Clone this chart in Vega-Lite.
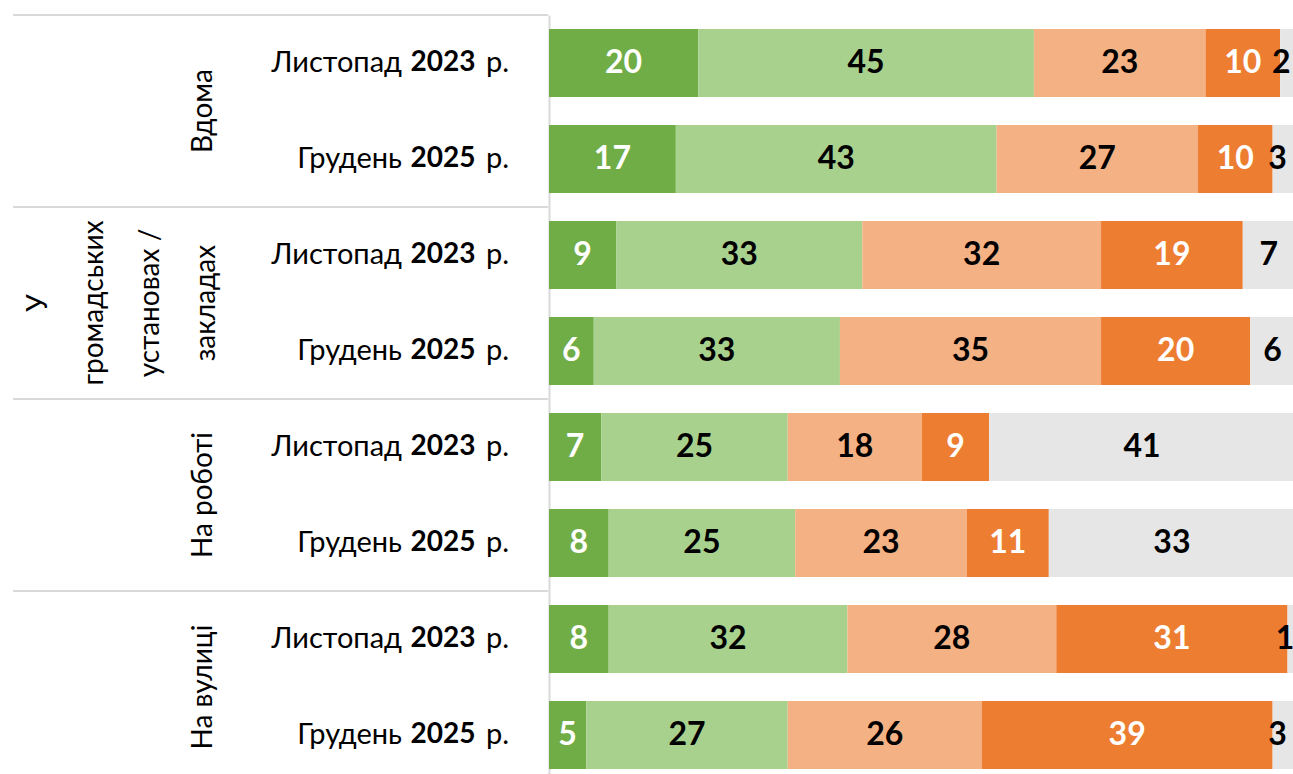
{
  "$schema": "https://vega.github.io/schema/vega-lite/v6.json",
  "padding": {"left": 12, "top": 14, "right": 0, "bottom": 0},
  "spacing": 0,
  "config": {"view": {"stroke": null}, "font": "Lato", "concat": {"spacing": 0}},
  "datasets": {
    "survey": [
      {"group": "Вдома", "month": "Листопад", "year": "2023", "row": "Вдома 2023", "answer": 1, "value": 20},
      {"group": "Вдома", "month": "Листопад", "year": "2023", "row": "Вдома 2023", "answer": 2, "value": 45},
      {"group": "Вдома", "month": "Листопад", "year": "2023", "row": "Вдома 2023", "answer": 3, "value": 23},
      {"group": "Вдома", "month": "Листопад", "year": "2023", "row": "Вдома 2023", "answer": 4, "value": 10},
      {"group": "Вдома", "month": "Листопад", "year": "2023", "row": "Вдома 2023", "answer": 5, "value": 2},
      {"group": "Вдома", "month": "Грудень", "year": "2025", "row": "Вдома 2025", "answer": 1, "value": 17},
      {"group": "Вдома", "month": "Грудень", "year": "2025", "row": "Вдома 2025", "answer": 2, "value": 43},
      {"group": "Вдома", "month": "Грудень", "year": "2025", "row": "Вдома 2025", "answer": 3, "value": 27},
      {"group": "Вдома", "month": "Грудень", "year": "2025", "row": "Вдома 2025", "answer": 4, "value": 10},
      {"group": "Вдома", "month": "Грудень", "year": "2025", "row": "Вдома 2025", "answer": 5, "value": 3},
      {"group": "У\nгромадських\nустановах /\nзакладах", "month": "Листопад", "year": "2023", "row": "Установи 2023", "answer": 1, "value": 9},
      {"group": "У\nгромадських\nустановах /\nзакладах", "month": "Листопад", "year": "2023", "row": "Установи 2023", "answer": 2, "value": 33},
      {"group": "У\nгромадських\nустановах /\nзакладах", "month": "Листопад", "year": "2023", "row": "Установи 2023", "answer": 3, "value": 32},
      {"group": "У\nгромадських\nустановах /\nзакладах", "month": "Листопад", "year": "2023", "row": "Установи 2023", "answer": 4, "value": 19},
      {"group": "У\nгромадських\nустановах /\nзакладах", "month": "Листопад", "year": "2023", "row": "Установи 2023", "answer": 5, "value": 7},
      {"group": "У\nгромадських\nустановах /\nзакладах", "month": "Грудень", "year": "2025", "row": "Установи 2025", "answer": 1, "value": 6},
      {"group": "У\nгромадських\nустановах /\nзакладах", "month": "Грудень", "year": "2025", "row": "Установи 2025", "answer": 2, "value": 33},
      {"group": "У\nгромадських\nустановах /\nзакладах", "month": "Грудень", "year": "2025", "row": "Установи 2025", "answer": 3, "value": 35},
      {"group": "У\nгромадських\nустановах /\nзакладах", "month": "Грудень", "year": "2025", "row": "Установи 2025", "answer": 4, "value": 20},
      {"group": "У\nгромадських\nустановах /\nзакладах", "month": "Грудень", "year": "2025", "row": "Установи 2025", "answer": 5, "value": 6},
      {"group": "На роботі", "month": "Листопад", "year": "2023", "row": "Робота 2023", "answer": 1, "value": 7},
      {"group": "На роботі", "month": "Листопад", "year": "2023", "row": "Робота 2023", "answer": 2, "value": 25},
      {"group": "На роботі", "month": "Листопад", "year": "2023", "row": "Робота 2023", "answer": 3, "value": 18},
      {"group": "На роботі", "month": "Листопад", "year": "2023", "row": "Робота 2023", "answer": 4, "value": 9},
      {"group": "На роботі", "month": "Листопад", "year": "2023", "row": "Робота 2023", "answer": 5, "value": 41},
      {"group": "На роботі", "month": "Грудень", "year": "2025", "row": "Робота 2025", "answer": 1, "value": 8},
      {"group": "На роботі", "month": "Грудень", "year": "2025", "row": "Робота 2025", "answer": 2, "value": 25},
      {"group": "На роботі", "month": "Грудень", "year": "2025", "row": "Робота 2025", "answer": 3, "value": 23},
      {"group": "На роботі", "month": "Грудень", "year": "2025", "row": "Робота 2025", "answer": 4, "value": 11},
      {"group": "На роботі", "month": "Грудень", "year": "2025", "row": "Робота 2025", "answer": 5, "value": 33},
      {"group": "На вулиці", "month": "Листопад", "year": "2023", "row": "Вулиця 2023", "answer": 1, "value": 8},
      {"group": "На вулиці", "month": "Листопад", "year": "2023", "row": "Вулиця 2023", "answer": 2, "value": 32},
      {"group": "На вулиці", "month": "Листопад", "year": "2023", "row": "Вулиця 2023", "answer": 3, "value": 28},
      {"group": "На вулиці", "month": "Листопад", "year": "2023", "row": "Вулиця 2023", "answer": 4, "value": 31},
      {"group": "На вулиці", "month": "Листопад", "year": "2023", "row": "Вулиця 2023", "answer": 5, "value": 1},
      {"group": "На вулиці", "month": "Грудень", "year": "2025", "row": "Вулиця 2025", "answer": 1, "value": 5},
      {"group": "На вулиці", "month": "Грудень", "year": "2025", "row": "Вулиця 2025", "answer": 2, "value": 27},
      {"group": "На вулиці", "month": "Грудень", "year": "2025", "row": "Вулиця 2025", "answer": 3, "value": 26},
      {"group": "На вулиці", "month": "Грудень", "year": "2025", "row": "Вулиця 2025", "answer": 4, "value": 39},
      {"group": "На вулиці", "month": "Грудень", "year": "2025", "row": "Вулиця 2025", "answer": 5, "value": 3}
    ]
  },
  "hconcat": [
    {
      "width": 535,
      "height": 760,
      "data": {"name": "survey"},
      "transform": [{"filter": "datum.answer == 1"}],
      "encoding": {
        "y": {
          "field": "row",
          "type": "nominal",
          "axis": null,
          "scale": {
            "domain": ["Вдома 2023", "Вдома 2025", "Установи 2023", "Установи 2025", "Робота 2023", "Робота 2025", "Вулиця 2023", "Вулиця 2025"],
            "paddingInner": 0.2917,
            "paddingOuter": 0.1042,
            "align": 0.7,
            "round": false
          }
        }
      },
      "layer": [
        {
          "transform": [{"filter": "datum.year == '2023'"}],
          "mark": {"type": "rule", "color": "#D9D9D9", "strokeWidth": 2, "yOffset": -14},
          "encoding": {
            "y": {"field": "row", "type": "nominal", "bandPosition": 0, "axis": null}
          }
        },
        {
          "mark": {"type": "text", "align": "right", "baseline": "middle", "fontSize": 29, "color": "#000000", "x": 389},
          "encoding": {"text": {"field": "month"}}
        },
        {
          "mark": {"type": "text", "align": "center", "baseline": "middle", "fontSize": 28, "fontWeight": "bold", "color": "#000000", "x": 430},
          "encoding": {"text": {"field": "year"}}
        },
        {
          "mark": {"type": "text", "align": "right", "baseline": "middle", "fontSize": 29, "color": "#000000", "x": 496, "text": "р."},
          "encoding": {}
        },
        {
          "transform": [{"filter": "datum.year == '2023' && indexof(datum.group, '\\n') < 0"}],
          "mark": {"type": "text", "align": "center", "baseline": "bottom", "angle": 270, "fontSize": 28, "color": "#000000", "x": 205, "yOffset": 48},
          "encoding": {"text": {"field": "group"}}
        },
        {
          "transform": [{"filter": "datum.year == '2023' && indexof(datum.group, '\\n') >= 0"}],
          "mark": {"type": "text", "align": "center", "baseline": "bottom", "angle": 270, "fontSize": 28, "color": "#000000", "x": 40, "yOffset": 48, "lineBreak": "\n", "lineHeight": 56},
          "encoding": {"text": {"field": "group"}}
        }
      ]
    },
    {
      "width": 746,
      "height": 760,
      "data": {"name": "survey"},
      "encoding": {
        "y": {
          "field": "row",
          "type": "nominal",
          "axis": {"labels": false, "ticks": false, "title": null, "domainColor": "#D9D9D9", "domainWidth": 2, "grid": false},
          "scale": {
            "domain": ["Вдома 2023", "Вдома 2025", "Установи 2023", "Установи 2025", "Робота 2023", "Робота 2025", "Вулиця 2023", "Вулиця 2025"],
            "paddingInner": 0.2917,
            "paddingOuter": 0.1042,
            "align": 0.7,
            "round": false
          }
        }
      },
      "layer": [
        {
          "mark": {"type": "bar"},
          "encoding": {
            "x": {"field": "value", "type": "quantitative", "stack": "zero", "axis": null, "scale": {"domain": [0, 100], "nice": false}},
            "color": {
              "field": "answer",
              "type": "ordinal",
              "legend": null,
              "scale": {"domain": [1, 2, 3, 4, 5], "range": ["#70AD47", "#A9D18E", "#F4B183", "#ED7D31", "#E7E6E6"]}
            }
          }
        },
        {
          "mark": {"type": "text", "align": "center", "baseline": "middle", "fontSize": 32, "fontWeight": "bold"},
          "encoding": {
            "x": {"field": "value", "type": "quantitative", "stack": "zero", "bandPosition": 0.5, "axis": null, "scale": {"domain": [0, 100], "nice": false}},
            "text": {"condition": {"test": "!(datum.answer == 5 && datum.value <= 3)", "field": "value", "type": "quantitative"}, "value": ""},
            "color": {
              "field": "answer",
              "type": "ordinal",
              "legend": null,
              "scale": {"domain": [1, 2, 3, 4, 5], "range": ["#FFFFFF", "#000000", "#000000", "#FFFFFF", "#000000"]}
            }
          }
        },
        {
          "mark": {"type": "text", "align": "right", "baseline": "middle", "fontSize": 32, "fontWeight": "bold", "dx": 3},
          "encoding": {
            "x": {"field": "value", "type": "quantitative", "stack": "zero", "bandPosition": 0.5, "axis": null, "scale": {"domain": [0, 100], "nice": false}},
            "text": {"condition": {"test": "datum.answer == 5 && datum.value <= 3", "field": "value", "type": "quantitative"}, "value": ""},
            "color": {
              "field": "answer",
              "type": "ordinal",
              "legend": null,
              "scale": {"domain": [1, 2, 3, 4, 5], "range": ["#FFFFFF", "#000000", "#000000", "#FFFFFF", "#000000"]}
            }
          }
        }
      ],
      "resolve": {"scale": {"color": "independent"}}
    }
  ]
}
